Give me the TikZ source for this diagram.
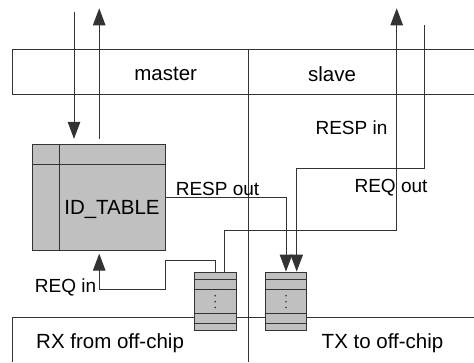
\documentclass[tikz,border=0pt]{standalone}
\usepackage{fontspec}
\setmainfont{Liberation Sans}
\usetikzlibrary{arrows.meta}
\begin{document}
\begin{tikzpicture}[x=1pt,y=-1pt,
  ln/.style={draw=black!80, line width=0.9pt},
  arr/.style={ln, -{Triangle[length=17pt,width=12.5pt]}},
  box/.style={draw=black!80, line width=0.9pt, fill={rgb,255:red,192;green,192;blue,192}, rectangle, inner sep=0pt},
  lbl/.style={font=\fontsize{20.5}{24}\selectfont, inner sep=0pt},
  clbl/.style={font=\fontsize{19}{22}\selectfont, inner sep=0pt},
  dot/.style={fill=black!80, circle, inner sep=0pt, minimum size=1.8pt}]
\useasboundingbox (0,0) rectangle (474,362);
% bands
\draw[ln] (474,49) -- (12.3,49) -- (12.3,94.3) -- (474,94.3);
\draw[ln] (474,317.7) -- (12.3,317.7) -- (12.3,362);
\draw[ln] (248.5,49) -- (248.5,362);
% ID table
\node[box, minimum width=133pt, minimum height=106.4pt] (idt) at (99.2,197.5) {};
\draw[ln] (59,144.3) -- (59,250.7);
\draw[ln] (32.7,164.3) -- (165.7,164.3);
% FIFOs
\node[box, minimum width=41.7pt, minimum height=57.6pt] (rx) at (215.15,301.5) {};
\node[box, minimum width=41.4pt, minimum height=57.6pt] (tx) at (286,301.5) {};
\foreach \a/\b in {194.3/236, 265.3/306.7}{
  \foreach \y in {279.3,289.3,313.3,323.3}{\draw[ln] (\a,\y) -- (\b,\y);}
}
\foreach \x in {215.15,286}{
  \foreach \y in {295.7,301.7,307.5}{\node[dot] at (\x,\y) {};}
}
% free ends
\coordinate (mIn) at (74,11.7);
\coordinate (mOut) at (99.2,8.3);
\coordinate (sOut) at (396.7,8.3);
\coordinate (sIn) at (424,25);
% connectors
\draw[arr, shorten >=5pt] (mIn) -- (mIn |- idt.north);
\draw[arr, shorten <=5pt] (idt.north) -- (mOut);
\draw[arr] ([xshift=8.85pt]rx.north) -- ++(0,-41.7) -| (sOut);
\draw[arr, shorten >=0.7pt] (sIn) |- (296.7,168.3) -- ([xshift=10.7pt]tx.north);
\draw[arr, shorten >=0.7pt] (idt.east) -| (tx.north);
\draw[arr, shorten >=2.5pt] (rx.north) |- (165.7,260) |- (99.2,289) -- (idt.south);
% labels
\node[lbl] (lmaster) at (165.7,74) {master};
\node[lbl] (lslave) at (332,74) {slave};
\node[lbl, anchor=west] (lrx) at (36,343.5) {RX from off-chip};
\node[lbl] (ltx) at (382.5,343.5) {TX to off-chip};
\node[lbl] (lid) at (112,209) {ID\_TABLE};
\node[clbl] (lrespin) at (351.5,128) {RESP in};
\node[clbl] (lrespout) at (217.5,189) {RESP out};
\node[clbl] (lreqout) at (391,188) {REQ out};
\node[clbl] (lreqin) at (65.5,287) {REQ in};
\end{tikzpicture}
\end{document}
